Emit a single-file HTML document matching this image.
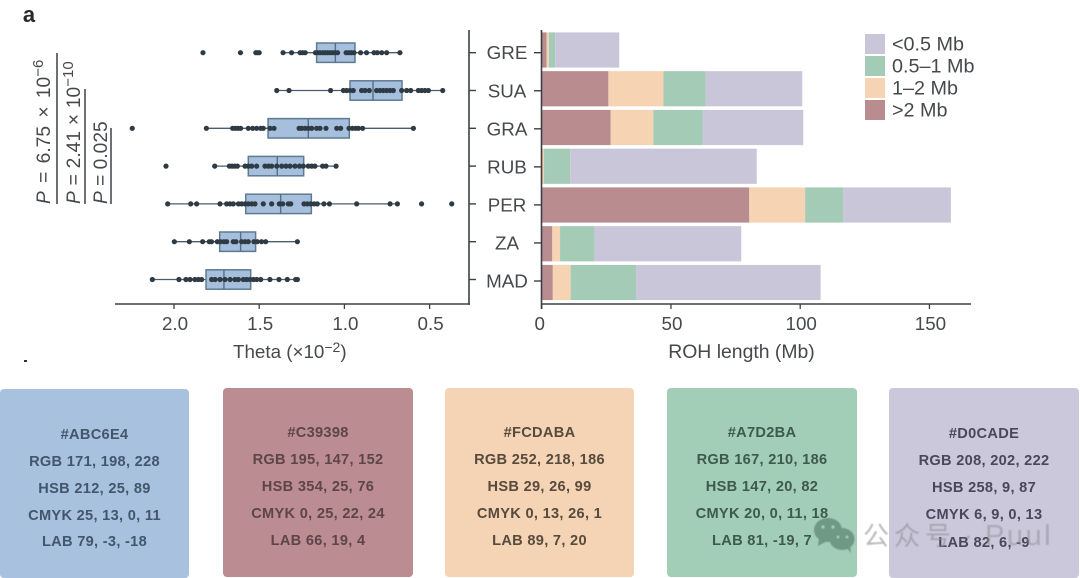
<!DOCTYPE html>
<html lang="en">
<head>
<meta charset="utf-8">
<title>Theta and ROH length chart</title>
<style>
html,body{margin:0;padding:0;background:#fff;}
body{width:1080px;height:578px;overflow:hidden;position:relative;font-family:"Liberation Sans","Noto Sans CJK SC",sans-serif;}
#chart{position:absolute;left:0;top:0;filter:blur(.35px);}
.card{position:absolute;border-radius:4px;font:bold 14.6px "Liberation Sans",sans-serif;letter-spacing:.3px;filter:blur(.3px);}
.card div{position:absolute;left:0;right:0;text-align:center;height:18px;line-height:18px;white-space:nowrap;}
#watermark{position:absolute;left:0;top:0;filter:blur(.4px);}
</style>
</head>
<body>
<svg id="chart" width="1080" height="380" viewBox="0 0 1080 380" xmlns="http://www.w3.org/2000/svg"></svg>

<div class="card" style="left:0;top:389px;width:189px;height:189px;background:#a7c1de;color:#43566c">
<div style="top:37px">#ABC6E4</div>
<div style="top:64px">RGB 171, 198, 228</div>
<div style="top:91px">HSB 212, 25, 89</div>
<div style="top:118px">CMYK 25, 13, 0, 11</div>
<div style="top:144px">LAB 79, -3, -18</div>
</div>
<div class="card" style="left:223px;top:388px;width:190px;height:189px;background:#bb8d92;color:#5d4548">
<div style="top:36px">#C39398</div>
<div style="top:63px">RGB 195, 147, 152</div>
<div style="top:90px">HSB 354, 25, 76</div>
<div style="top:117px">CMYK 0, 25, 22, 24</div>
<div style="top:144px">LAB 66, 19, 4</div>
</div>
<div class="card" style="left:445px;top:388px;width:189px;height:189px;background:#f5d4b5;color:#584a3c">
<div style="top:36px">#FCDABA</div>
<div style="top:63px">RGB 252, 218, 186</div>
<div style="top:90px">HSB 29, 26, 99</div>
<div style="top:117px">CMYK 0, 13, 26, 1</div>
<div style="top:144px">LAB 89, 7, 20</div>
</div>
<div class="card" style="left:667px;top:388px;width:190px;height:189px;background:#a2cdb7;color:#3e5a4d">
<div style="top:36px">#A7D2BA</div>
<div style="top:63px">RGB 167, 210, 186</div>
<div style="top:90px">HSB 147, 20, 82</div>
<div style="top:117px">CMYK 20, 0, 11, 18</div>
<div style="top:144px">LAB 81, -19, 7</div>
</div>
<div class="card" style="left:889px;top:388px;width:190px;height:190px;background:#ccc8dc;color:#494858">
<div style="top:37px">#D0CADE</div>
<div style="top:64px">RGB 208, 202, 222</div>
<div style="top:91px">HSB 258, 9, 87</div>
<div style="top:118px">CMYK 6, 9, 0, 13</div>
<div style="top:146px">LAB 82, 6, -9</div>
</div>

<svg id="watermark" width="1080" height="578" viewBox="0 0 1080 578" xmlns="http://www.w3.org/2000/svg">
  <g fill="#6f9885">
    <ellipse cx="828" cy="530" rx="14" ry="12"/>
    <path d="M819 538 L818 546 L827 541 Z"/>
    <ellipse cx="842" cy="539" rx="12.500" ry="11"/>
    <path d="M846 547 L851 553 L850 544 Z"/>
    <circle cx="823" cy="527" r="1.700" fill="#a2cdb7"/>
    <circle cx="833" cy="527" r="1.700" fill="#a2cdb7"/>
    <circle cx="838" cy="537" r="1.500" fill="#a2cdb7"/>
    <circle cx="847" cy="537" r="1.500" fill="#a2cdb7"/>
  </g>
  <text x="863" y="545" font-size="26" fill="#8f8f96" fill-opacity=".62" font-family="'Liberation Sans','Noto Sans CJK SC',sans-serif" letter-spacing="5">公众号</text>
  <text x="964" y="544" font-size="26" fill="#8f8f96" fill-opacity=".62" font-family="'Liberation Sans',sans-serif">·</text>
  <text x="985" y="545" font-size="29" fill="#8f8f96" fill-opacity=".55" font-family="'Liberation Sans',sans-serif" letter-spacing="2.500">Puul</text>
</svg>

<script>
const categories = ['GRE','SUA','GRA','RUB','PER','ZA','MAD'];

const boxHigh = [1.163,0.967,1.448,1.564,1.579,1.732,1.812];
const boxMedian = [1.053,0.832,1.212,1.394,1.374,1.609,1.707];
const boxLow = [0.938,0.662,0.971,1.239,1.194,1.521,1.550];
const whiskerHigh = [1.36,1.397,1.81,1.761,2.037,1.998,2.127];
const whiskerLow = [0.674,0.423,0.595,1.049,0.689,1.276,1.276];

const pointsGRE = [1.83,1.61,1.52,1.51,1.50,1.36,1.31,1.26,1.245,1.23,1.17,1.157,1.143,1.128,1.114,1.10,1.085,1.069,1.055,1.04,0.99,0.975,0.96,0.944,0.905,0.87,0.826,0.807,0.781,0.752,0.674];
const pointsSUA = [1.397,1.325,1.081,1.006,0.987,0.967,0.948,0.899,0.879,0.854,0.811,0.791,0.772,0.752,0.732,0.713,0.664,0.635,0.611,0.566,0.547,0.527,0.507,0.423];
const pointsGRA = [2.245,1.81,1.656,1.64,1.624,1.609,1.564,1.538,1.515,1.491,1.476,1.437,1.413,1.266,1.251,1.231,1.212,1.192,1.163,1.143,1.108,1.045,1.022,0.973,0.953,0.934,0.918,0.893,0.595];
const pointsRUB = [2.047,1.761,1.675,1.659,1.644,1.628,1.583,1.564,1.544,1.515,1.466,1.446,1.427,1.397,1.368,1.343,1.319,1.29,1.264,1.241,1.212,1.192,1.173,1.128,1.108,1.049];
const pointsPER = [2.037,1.902,1.867,1.73,1.691,1.671,1.652,1.622,1.603,1.583,1.564,1.544,1.525,1.476,1.427,1.382,1.362,1.329,1.315,1.237,1.218,1.198,1.178,1.159,1.12,1.088,0.928,0.732,0.689,0.547,0.37];
const pointsZA = [1.998,1.91,1.832,1.793,1.78,1.746,1.727,1.707,1.691,1.652,1.636,1.603,1.583,1.564,1.531,1.511,1.486,1.462,1.276];
const pointsMAD = [2.127,1.971,1.93,1.906,1.877,1.857,1.838,1.779,1.759,1.73,1.701,1.671,1.642,1.622,1.593,1.574,1.554,1.534,1.515,1.491,1.437,1.384,1.335,1.286,1.276];
const thetaPoints = [pointsGRE,pointsSUA,pointsGRA,pointsRUB,pointsPER,pointsZA,pointsMAD];

const rohOver2 = [1.9,25.8,26.7,0.3,80.3,4.1,4.3];
const roh1to2 = [0.9,21.3,16.5,0.6,21.6,3.0,6.9];
const roh05to1 = [2.4,16.3,19.0,10.1,14.8,13.3,25.3];
const rohUnder05 = [24.8,37.4,39.0,72.2,41.6,56.8,71.4];
const rohSeriesValues = [rohOver2,roh1to2,roh05to1,rohUnder05];
const rohSeriesKeys = ['over-2mb','1-2mb','0-5-1mb','under-0-5mb'];
const rohSeriesColors = ['#b98c90','#f5d3b3','#a3cbb6','#cac6da'];

const thetaTicks = [2.0,1.5,1.0,0.5];
const rohTicks = [0,50,100,150];
const legendLabels = ['<0.5 Mb','0.5\u20131 Mb','1\u20132 Mb','>2 Mb'];
const legendColors = ['#cac6da','#a3cbb6','#f5d3b3','#b98c90'];

const svg = document.getElementById('chart');
const NS = 'http://www.w3.org/2000/svg';
const axisColor = '#3c4145';
const textColor = '#46494c';
const labelSize = 18.8;
const titleSize = 19.4;
const legendSize = 19.8;

function thetaX(v){ return 174 + (2 - v) * 170.4; }
function boxY(i){ return 52.7 + i * 37.8; }
function rohX(v){ return 541.7 + v * 2.585; }
function barY(i){ return 50 + i * 38.75; }
function tickY(i){ return 52.7 + i * 38.05; }

function make(tag, attrs){
  const el = document.createElementNS(NS, tag);
  for (const k in attrs) el.setAttribute(k, attrs[k]);
  svg.appendChild(el);
  return el;
}
function lineEl(x1,y1,x2,y2,w,c){
  return make('line',{x1:x1,y1:y1,x2:x2,y2:y2,stroke:c||axisColor,'stroke-width':w||1.6});
}
function textEl(s,x,y,size,anchor){
  const t = make('text',{x:x,y:y,'font-size':size||labelSize,'text-anchor':anchor||'middle',fill:textColor,'font-family':'"Liberation Sans",sans-serif'});
  t.textContent = s;
  return t;
}

/* panel letter */
const panelLetter = textEl('a',29,22,22);


panelLetter.setAttribute('font-weight', 'bold');
panelLetter.setAttribute('fill', '#2a2a2a');

const smallMark = make('rect',{x:24,y:360,width:3,height:2,fill:'#333'});



/* P-value annotations */
const pTexts = ['6.75 \u00d7 10','2.41 \u00d7 10','0.025'];
const pExps = ['\u22126','\u221210',''];
const pBase = [50,80,107];
const pLineX = [57,85,111];
const pLineTop = [53,89,128];
const pWordGap = [3,0.5,0];
pTexts.forEach(function(s,i){
  const t = make('text',{transform:'translate('+pBase[i]+',204) rotate(-90)','font-size':19.2,'word-spacing':pWordGap[i],fill:textColor,'font-family':'"Liberation Sans",sans-serif'});
  
  
  const p = document.createElementNS(NS,'tspan');
  p.setAttribute('font-style','italic');
  p.textContent = 'P';
  t.appendChild(p);
  t.appendChild(document.createTextNode(' = ' + s));
  if (pExps[i]) {
    const e = document.createElementNS(NS,'tspan');
    e.setAttribute('dy','-7');
    e.setAttribute('font-size','15');
    e.textContent = pExps[i];
    t.appendChild(e);
  }
  const b = lineEl(pLineX[i],pLineTop[i],pLineX[i],204,1.5);
  
  
});

/* left panel: box plots */
categories.forEach(function(cat,i){
  const y = boxY(i);
  const whisker = lineEl(thetaX(whiskerHigh[i]),y,thetaX(whiskerLow[i]),y,1.3,'#4d5c68');
  
  
  const box = make('rect',{x:thetaX(boxHigh[i]),y:y-9.7,width:thetaX(boxLow[i])-thetaX(boxHigh[i]),height:19.4,fill:'#a5bfdd',stroke:'#5f7a92','stroke-width':1.5});
  
  
  const med = lineEl(thetaX(boxMedian[i]),y-9.7,thetaX(boxMedian[i]),y+9.7,1.4,'#566f86');
  
  
  thetaPoints[i].forEach(function(v){
    const c = make('circle',{cx:thetaX(v),cy:y,r:2.6,fill:'#2e3a44'});
    
    
  });
});

/* right panel: stacked bars */
categories.forEach(function(cat,i){
  let acc = 0;
  rohSeriesValues.forEach(function(series,s){
    const x0 = rohX(acc);
    acc += series[i];
    const r = make('rect',{x:x0,y:barY(i)-17.6,width:rohX(acc)-x0,height:35.2,fill:rohSeriesColors[s]});
    
    
  });
});

/* axes */
const thetaAxis = lineEl(115,304,470,304);


const midAxis = lineEl(469,30,469,304.800);


const rohYAxis = lineEl(541.500,30,541.500,309);


const rohAxis = lineEl(541,304,971,304);



thetaTicks.forEach(function(v){
  const m = lineEl(thetaX(v),304,thetaX(v),309,1.3);
  
  
  const t = textEl(v.toFixed(1),thetaX(v)+1,330);
  
  
});
rohTicks.forEach(function(v){
  const m = lineEl(rohX(v),304,rohX(v),309,1.3);
  
  
  const t = textEl(String(v),rohX(v)+(v===0?-2:1),330);
  
  
});
categories.forEach(function(cat,i){
  const a = lineEl(469,boxY(i),476,boxY(i),1.4);
  
  
  const b = lineEl(534,tickY(i),541,tickY(i),1.4);
  
  
  const t = textEl(cat,507,tickY(i)+6.5);
  
  
});

/* axis titles */
const thetaTitle = textEl('Theta (\u00d710',233,358,labelSize,'start');


const sup = document.createElementNS(NS,'tspan');
sup.setAttribute('dy','-6');
sup.setAttribute('font-size','14');
sup.textContent = '\u22122';
thetaTitle.appendChild(sup);
const close = document.createElementNS(NS,'tspan');
close.setAttribute('dy','6');
close.textContent = ')';
thetaTitle.appendChild(close);
const rohTitle = textEl('ROH length (Mb)',741.5,358,titleSize);



/* legend */
legendLabels.forEach(function(label,i){
  const y = 34 + i * 22;
  const sw = make('rect',{x:865,y:y,width:20,height:20,fill:legendColors[i]});
  
  
  const t = textEl(label,892,y+16.5,legendSize,'start');
  
  
});
</script>
</body>
</html>
